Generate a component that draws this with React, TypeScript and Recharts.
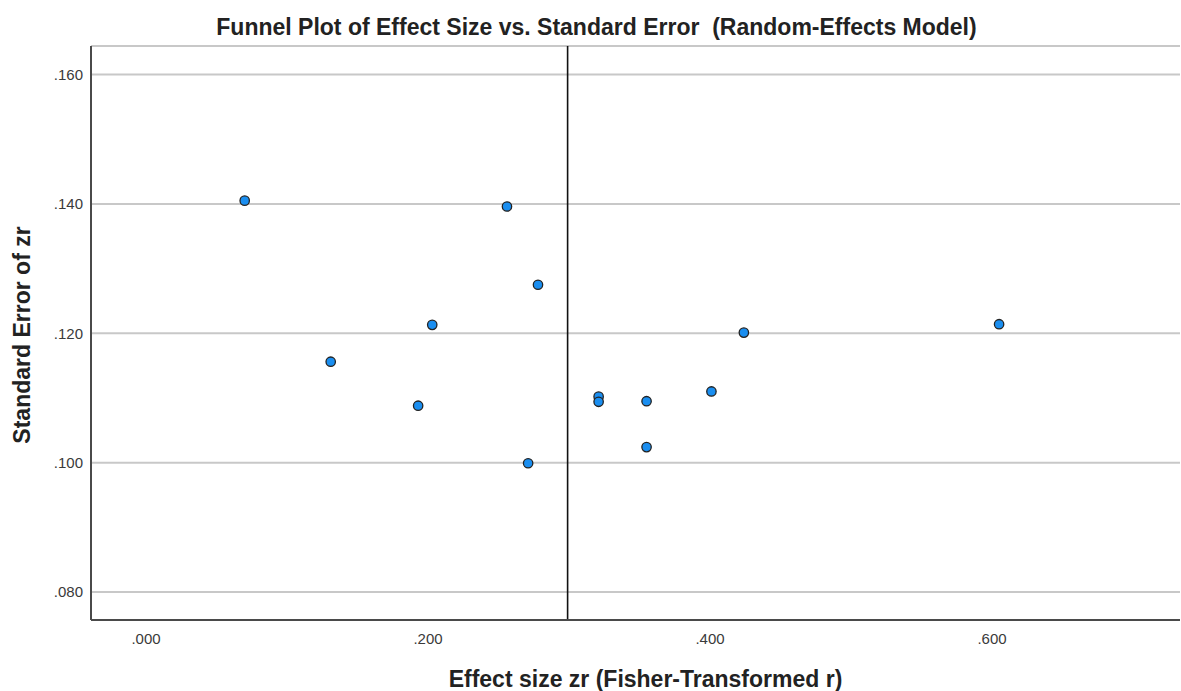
import { CartesianGrid, ReferenceLine, Scatter, ScatterChart, XAxis, YAxis } from "recharts";

// Fisher-transformed effect sizes and their standard errors, one per study
const effectSizes = [
  0.070, 0.256, 0.278, 0.203, 0.131, 0.193, 0.271, 0.321, 0.321, 0.355, 0.355, 0.401, 0.424, 0.605,
];
const standardErrors = [
  0.1405, 0.1396, 0.1275, 0.1213, 0.1156, 0.1088, 0.0999, 0.1102, 0.1094, 0.1095, 0.1024, 0.1110, 0.1201,
  0.1214,
];
const pooledEffect = 0.299;
const xTicks = [0, 0.2, 0.4, 0.6];
const yTicks = [0.08, 0.1, 0.12, 0.14, 0.16];

const data = effectSizes.map((zr, i) => ({ zr, se: standardErrors[i] }));

const font = '"Liberation Sans", Arial, Helvetica, sans-serif';
const fmt = (v: number) => v.toFixed(3).replace(/^0/, "");

const Dot = (props: any) => (
  <circle cx={props.cx} cy={props.cy} r={4.7} fill="#1a8ef0" stroke="#222" strokeWidth={1.3} />
);

export default function App() {
  return (
    <div style={{ position: "absolute", left: 0, top: 0, width: 1181, height: 691, background: "#fff", fontFamily: font }}>
      <div
        style={{
          position: "absolute",
          left: 6,
          top: 13,
          width: 1181,
          textAlign: "center",
          fontWeight: "bold",
          fontSize: 23,
          lineHeight: "28px",
          color: "#222",
          whiteSpace: "pre",
        }}
      >
        {"Funnel Plot of Effect Size vs. Standard Error  (Random-Effects Model)"}
      </div>
      <ScatterChart width={1181} height={691} margin={{ top: 46, right: 1, bottom: 41, left: 0 }}>
        <CartesianGrid vertical={false} stroke="#c8c8c8" strokeWidth={2} />
        <XAxis
          type="number"
          dataKey="zr"
          domain={[-0.039, 0.7333]}
          ticks={xTicks}
          tickFormatter={fmt}
          allowDataOverflow
          height={30}
          tickLine={false}
          tickMargin={7}
          axisLine={{ stroke: "#4a4a4a", strokeWidth: 2 }}
          tick={{ fontSize: 15, fill: "#3a3a3a", fontFamily: font }}
          label={{
            content: ({ viewBox }: any) => (
              <text
                x={viewBox.x + viewBox.width / 2 + 10}
                y={687}
                textAnchor="middle"
                fontWeight="bold"
                fontSize={23}
                fill="#222"
                fontFamily={font}
              >
                Effect size zr (Fisher-Transformed r)
              </text>
            ),
          }}
        />
        <YAxis
          type="number"
          dataKey="se"
          domain={[0.07567, 0.16441]}
          ticks={yTicks}
          tickFormatter={fmt}
          allowDataOverflow
          width={91}
          tickLine={false}
          axisLine={{ stroke: "#4a4a4a", strokeWidth: 2 }}
          tick={{ fontSize: 15, fill: "#3a3a3a", fontFamily: font }}
          label={{
            content: ({ viewBox }: any) => {
              const cy = viewBox.y + viewBox.height / 2 + 2;
              return (
                <text
                  x={30}
                  y={cy}
                  transform={`rotate(-90 30 ${cy})`}
                  textAnchor="middle"
                  fontWeight="bold"
                  fontSize={23}
                  fill="#222"
                  fontFamily={font}
                >
                  Standard Error of zr
                </text>
              );
            },
          }}
        />
        <ReferenceLine x={pooledEffect} stroke="#111" strokeWidth={1.6} />
        <Scatter data={data} shape={Dot} isAnimationActive={false} />
      </ScatterChart>
    </div>
  );
}
